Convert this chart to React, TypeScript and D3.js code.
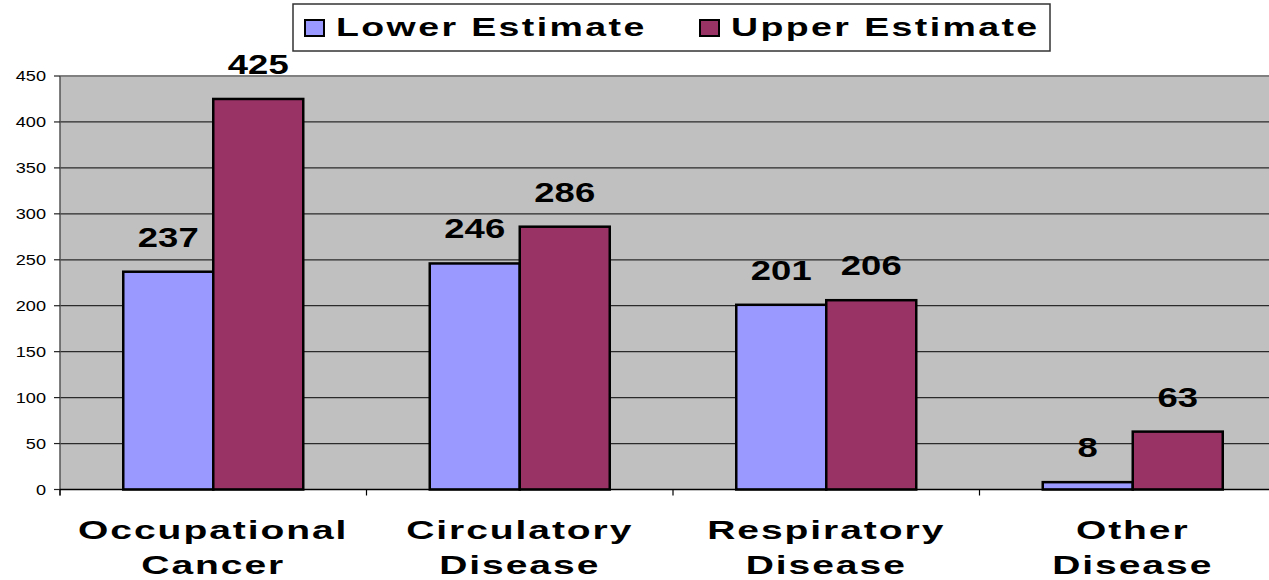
import React from "react";
import * as d3 from "d3";

const categories: string[][] = [
  ["Occupational", "Cancer"],
  ["Circulatory", "Disease"],
  ["Respiratory", "Disease"],
  ["Other", "Disease"],
];
const categoryKeys = ["Occupational Cancer", "Circulatory Disease", "Respiratory Disease", "Other Disease"];
const seriesNames = ["Lower Estimate", "Upper Estimate"];
const lowerValues = [237, 246, 201, 8];
const upperValues = [425, 286, 206, 63];
const yTicks = [0, 50, 100, 150, 200, 250, 300, 350, 400, 450];
const colors = ["#9999FF", "#993366"];

const W = 1269;
const H = 580;
const left = 60;
const top = 76;
const bottom = 489.5;
const catW = 306.5;
const SX = 1.35;
const SXL = 1.5;
const FONT = "'Liberation Sans', Arial, sans-serif";

export default function App() {
  const x = d3.scaleBand<string>().domain(categoryKeys).range([left, left + catW * 4]).padding(0);
  const x1 = d3.scaleBand<string>().domain(seriesNames).range([63.25, 243.25]).padding(0);
  const y = d3.scaleLinear().domain([0, 450]).range([bottom, top]);
  const series = [lowerValues, upperValues];
  const plotRight = left + catW * 4;

  return (
    <svg width={W} height={H} style={{ position: "absolute", left: 0, top: 0, display: "block", background: "#fff" }}>
      <rect x={left} y={top} width={plotRight - left} height={bottom - top} fill="#C0C0C0" />
      {yTicks.filter((t) => t > 0 && t < 450).map((t) => (
        <line key={t} x1={left} x2={plotRight} y1={y(t)} y2={y(t)} stroke="#2a2a2a" strokeWidth={1.2} />
      ))}
      <line x1={left} x2={plotRight} y1={y(450)} y2={y(450)} stroke="#808080" strokeWidth={2} />
      <line x1={left} x2={left} y1={top} y2={bottom + 6} stroke="#555" strokeWidth={1.5} />
      {yTicks.map((t) => (
        <g key={t}>
          <line x1={left - 6} x2={left} y1={y(t)} y2={y(t)} stroke="#222" strokeWidth={1.2} />
          <text
            transform={`translate(${left - 14},${y(t) + 5}) scale(1.25,1)`}
            textAnchor="end"
            fontFamily={FONT}
            fontSize={14.5}
            fill="#000"
          >
            {t}
          </text>
        </g>
      ))}
      {categoryKeys.map((c, i) => (
        <g key={c} transform={`translate(${x(c)},0)`}>
          {seriesNames.map((s, j) => {
            const v = series[j][i];
            const bx = x1(s)!;
            const bw = x1.bandwidth();
            return (
              <g key={s}>
                <rect x={bx} y={y(v)} width={bw} height={bottom - y(v)} fill={colors[j]} stroke="#000" strokeWidth={2.5} />
                <text
                  transform={`translate(${bx + bw / 2},${y(v) - 25}) scale(${SX},1)`}
                  textAnchor="middle"
                  fontFamily={FONT}
                  fontWeight="bold"
                  fontSize={27}
                  fill="#000"
                >
                  {v}
                </text>
              </g>
            );
          })}
        </g>
      ))}
      <line x1={left} x2={plotRight} y1={bottom} y2={bottom} stroke="#000" strokeWidth={1.5} />
      {[...categoryKeys.map((c) => x(c)!), plotRight].map((px, i) => (
        <line key={i} x1={px} x2={px} y1={bottom} y2={bottom + 6} stroke="#000" strokeWidth={1.2} />
      ))}
      {categoryKeys.map((c, i) => (
        <g key={c}>
          {categories[i].map((line, k) => (
            <text
              key={k}
              transform={`translate(${x(c)! + x.bandwidth() / 2},${539 + k * 35}) scale(${SXL},1)`}
              textAnchor="middle"
              fontFamily={FONT}
              fontWeight="bold"
              fontSize={26}
              letterSpacing={1.3}
              fill="#000"
            >
              {line}
            </text>
          ))}
        </g>
      ))}
      <rect x={293} y={4} width={757} height={47} fill="#fff" stroke="#333" strokeWidth={1.5} />
      {seriesNames.map((s, j) => {
        const lx = j === 0 ? 305 : 700;
        return (
          <g key={s}>
            <rect x={lx} y={20} width={19} height={16} fill={colors[j]} stroke="#000" strokeWidth={2} />
            <text
              transform={`translate(${lx + 31},36) scale(${SXL},1)`}
              fontFamily={FONT}
              fontWeight="bold"
              fontSize={25}
              letterSpacing={1.6}
              fill="#000"
            >
              {s}
            </text>
          </g>
        );
      })}
    </svg>
  );
}
